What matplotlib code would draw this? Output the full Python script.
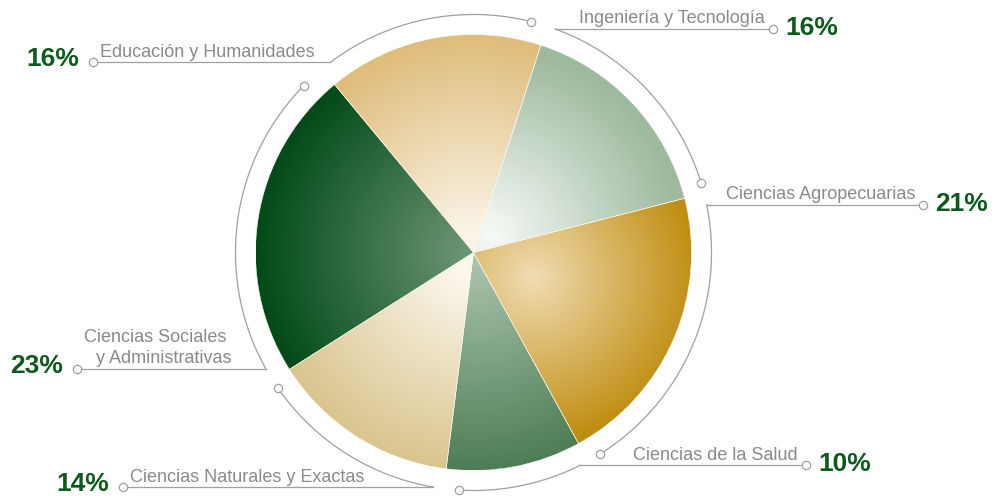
import numpy as np
import matplotlib
matplotlib.use('Agg')
import matplotlib.pyplot as plt
from matplotlib.colors import to_rgb

# datos (sentido horario desde Ingeniería)
categorias = ['Ingeniería y Tecnología', 'Ciencias Agropecuarias', 'Ciencias de la Salud',
              'Ciencias Naturales y Exactas', 'Ciencias Sociales \ny Administrativas',
              'Educación y Humanidades']
porcentajes = [16, 21, 10, 14, 23, 16]

# colores de cada sector: exterior / interior del degradado
color_ext = ['#9dba9e', '#bf8d10', '#4a7b52', '#d9c38b', '#004a17', '#dfbd7c']
color_int = ['#f7faf7', '#f1dcb3', '#abc4ac', '#fcf9f0', '#6e9674', '#fcf6eb']
verde = '#0d5a1c'
gris_txt = '#8a8a8a'
gris_lin = '#a0a0a0'

plt.rcParams['font.family'] = ['Liberation Sans', 'DejaVu Sans']

cx, cy, r = 473.5, 252.5, 218
r_arco = 238
inicio = 18  # grados, sentido horario desde arriba
foco = [25, 65, 10, 20, 5, 15]
alcance = [185, 165, 215, 205, 215, 200]
ins_ini = [2.1, 2.8, 2.1, 2.5, 3.2, 2.6]
ins_fin = [2.7, 3.2, 3.6, 2.4, 5.9, 4.0]
x_marca = [773, 923, 806, 123, 77, 93]

fig = plt.figure(figsize=(9.96, 4.96), dpi=100)
ax = fig.add_axes([0, 0, 1, 1])

wedges, _ = ax.pie(porcentajes, startangle=inicio - 90, counterclock=True,
                   center=(cx, cy), radius=r,
                   wedgeprops=dict(facecolor='none', edgecolor='#fbf8f0', linewidth=0.4))

acum = np.cumsum([0] + porcentajes) * 3.6 + inicio

n = 900
X, Y = np.meshgrid(np.linspace(cx - r, cx + r, n), np.linspace(cy - r, cy + r, n))
for i, w in enumerate(wedges):
    mid = np.radians((acum[i] + acum[i + 1]) / 2)
    fx = cx + foco[i] * np.sin(mid)
    fy = cy - foco[i] * np.cos(mid)
    t = np.clip(np.hypot(X - fx, Y - fy) / alcance[i], 0, 1)[..., None]
    img = (1 - t) * np.array(to_rgb(color_int[i])) + t * np.array(to_rgb(color_ext[i]))
    im = ax.imshow(img, extent=(cx - r, cx + r, cy - r, cy + r), origin='lower',
                   interpolation='bilinear', zorder=0)
    im.set_clip_path(w)

mk = dict(marker='o', ms=6, mfc='white', mec=gris_lin, mew=0.9, zorder=5)
for i in range(len(porcentajes)):
    phi = np.radians(np.linspace(acum[i] + ins_ini[i], acum[i + 1] - ins_fin[i], 120))
    ax_ = cx + r_arco * np.sin(phi)
    ay_ = cy - r_arco * np.cos(phi)
    ax.plot(ax_, ay_, color=gris_lin, lw=0.9)
    ax.plot(ax_[-1], ay_[-1], **mk)
    jx, jy = ax_[0], ay_[0]
    ax.plot([jx, x_marca[i]], [jy, jy], color=gris_lin, lw=0.9)
    ax.plot(x_marca[i], jy, **mk)
    pct = f'{porcentajes[i]}%'
    if jx > cx:
        ax.text(x_marca[i] - 8, jy - 1.5, categorias[i], ha='right', va='bottom',
                fontsize=13, color=gris_txt)
        ax.text(x_marca[i] + 12, jy - 1, pct, ha='left', va='center',
                fontsize=19, fontweight='bold', color=verde)
    else:
        ax.text(x_marca[i] + 7, jy - 1.5, categorias[i], ha='left', va='bottom',
                fontsize=13, color=gris_txt, multialignment='right', linespacing=1.3)
        ax.text(x_marca[i] - 14, jy - 3, pct, ha='right', va='center',
                fontsize=19, fontweight='bold', color=verde)

ax.set_xlim(0, 996)
ax.set_ylim(496, 0)
ax.set_aspect('equal')
ax.axis('off')
fig.savefig('out.png', dpi=100, facecolor='white')
